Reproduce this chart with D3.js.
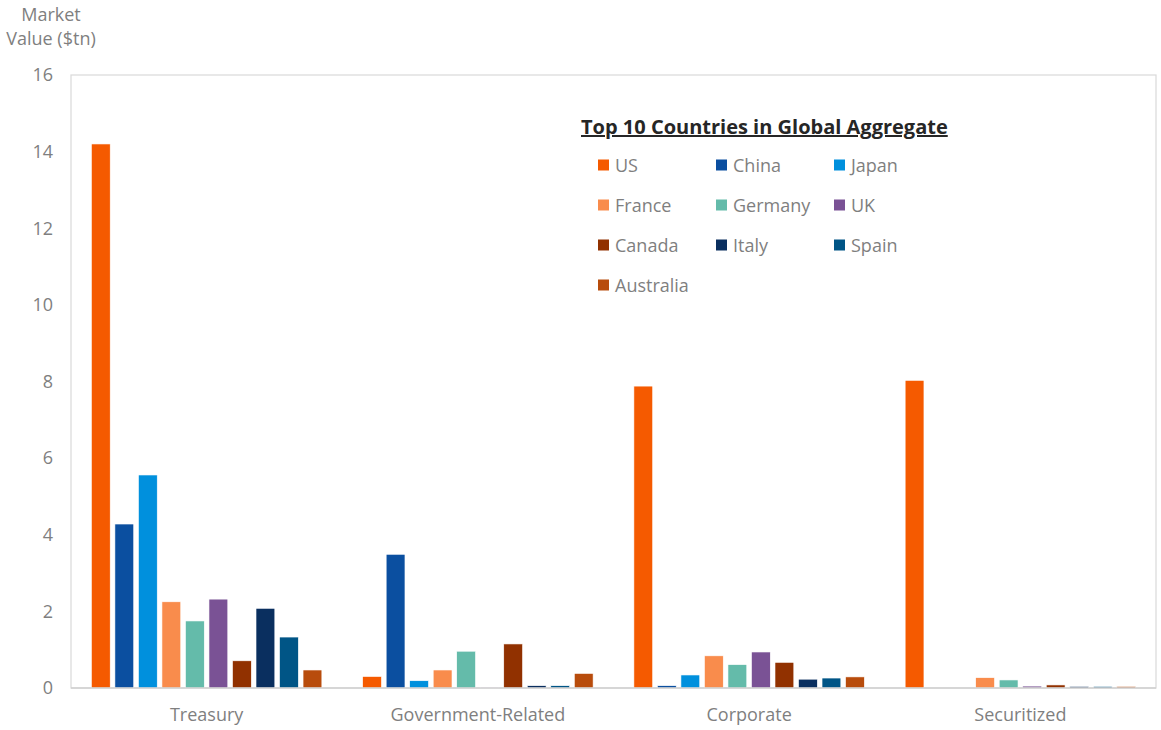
<!DOCTYPE html>
<meta charset="utf-8">
<style>
body { margin: 0; background: #fff; }
text { font-family: "Open Sans", sans-serif; }
.axis text { fill: #7f7f7f; font-size: 18px; }
.axis path, .axis line { display: none; }
</style>
<body>
<script src="https://cdn.jsdelivr.net/npm/d3@7"></script>
<script>

var categories = ["Treasury", "Government-Related", "Corporate", "Securitized"];
var countries = ["US", "China", "Japan", "France", "Germany", "UK", "Canada", "Italy", "Spain", "Australia"];
var colors = ["#f55a00", "#0b4fa0", "#0090dd", "#f98c4c", "#64bbaa", "#7a5295", "#913100", "#0a2f5f", "#005586", "#b84c0c"];

// market value ($tn) per country, in category order
var US        = [14.2, 0.30, 7.88, 8.03];
var China     = [4.28, 3.49, 0.06, 0];
var Japan     = [5.56, 0.19, 0.34, 0];
var France    = [2.25, 0.47, 0.84, 0.27];
var Germany   = [1.75, 0.96, 0.61, 0.21];
var UK        = [2.32, 0.02, 0.94, 0.05];
var Canada    = [0.71, 1.15, 0.67, 0.08];
var Italy     = [2.08, 0.06, 0.23, 0.04];
var Spain     = [1.33, 0.06, 0.26, 0.04];
var Australia = [0.47, 0.38, 0.29, 0.04];
var values = [US, China, Japan, France, Germany, UK, Canada, Italy, Spain, Australia];

var yTicks = [0, 2, 4, 6, 8, 10, 12, 14, 16];

var margin = {top: 75, right: 5, bottom: 42, left: 71},
    width = 1161 - margin.left - margin.right,
    height = 730 - margin.top - margin.bottom;

var svg = d3.select("body").append("svg")
    .attr("width", 1161)
    .attr("height", 730)
  .append("g")
    .attr("transform", "translate(" + margin.left + "," + margin.top + ")");

var x0 = d3.scaleBand().domain(categories).range([0, width]).paddingInner(0.133).paddingOuter(0.0665);
var x1 = d3.scaleBand().domain(countries).range([0, x0.bandwidth()]).paddingInner(0.2).paddingOuter(0.1);
var y = d3.scaleLinear().domain([0, 16]).range([height, 0]);

// plot frame
svg.append("rect")
    .attr("width", width)
    .attr("height", height)
    .attr("fill", "none")
    .attr("stroke", "#d9d9d9")
    .attr("stroke-width", 1.2);

svg.append("g")
    .attr("class", "y axis")
    .attr("transform", "translate(-12,0)")
    .call(d3.axisLeft(y).tickValues(yTicks).tickSize(0).tickPadding(6));

svg.append("g")
    .attr("class", "x axis")
    .attr("transform", "translate(0," + height + ")")
    .call(d3.axisBottom(x0).tickSize(0).tickPadding(20));

var groups = svg.selectAll(".grp")
    .data(categories)
  .enter().append("g")
    .attr("class", "grp")
    .attr("transform", function(d) { return "translate(" + x0(d) + ",0)"; });

groups.selectAll("rect")
    .data(function(c, ci) { return countries.map(function(k, i) { return {k: k, i: i, v: values[i][ci]}; }); })
  .enter().append("rect")
    .filter(function(d) { return d.v > 0; })
    .attr("x", function(d) { return x1(d.k); })
    .attr("width", x1.bandwidth())
    .attr("y", function(d) { return y(d.v); })
    .attr("height", function(d) { return height - y(d.v); })
    .attr("fill", function(d) { return colors[d.i]; })
    .attr("stroke", "#fff")
    .attr("stroke-width", 0.6);

// bottom axis line
svg.append("line")
    .attr("x1", 0).attr("x2", width)
    .attr("y1", height).attr("y2", height)
    .attr("stroke", "#d0d0d0")
    .attr("stroke-width", 1.5);

// y title
var root = d3.select("svg");
root.append("text")
    .attr("x", 51).attr("y", 21)
    .attr("text-anchor", "middle")
    .attr("fill", "#7f7f7f")
    .style("font-size", "18px")
    .text("Market");
root.append("text")
    .attr("x", 51).attr("y", 45)
    .attr("text-anchor", "middle")
    .attr("fill", "#7f7f7f")
    .style("font-size", "18px")
    .text("Value ($tn)");

// legend
var legend = root.append("g").attr("transform", "translate(581,0)");
legend.append("text")
    .attr("x", 0).attr("y", 134)
    .attr("fill", "#262626")
    .style("font-size", "20px")
    .style("font-weight", "bold")
    .style("text-decoration", "underline")
    .text("Top 10 Countries in Global Aggregate");

var colX = [17, 135, 253];
var item = legend.selectAll(".item")
    .data(countries)
  .enter().append("g")
    .attr("class", "item")
    .attr("transform", function(d, i) { return "translate(" + colX[i % 3] + "," + (165 + Math.floor(i / 3) * 40) + ")"; });

item.append("rect")
    .attr("x", 0).attr("y", -5.5)
    .attr("width", 11).attr("height", 11)
    .attr("fill", function(d, i) { return colors[i]; });

item.append("text")
    .attr("x", 17).attr("y", 6.5)
    .attr("fill", "#7f7f7f")
    .style("font-size", "18px")
    .text(function(d) { return d; });

</script>
